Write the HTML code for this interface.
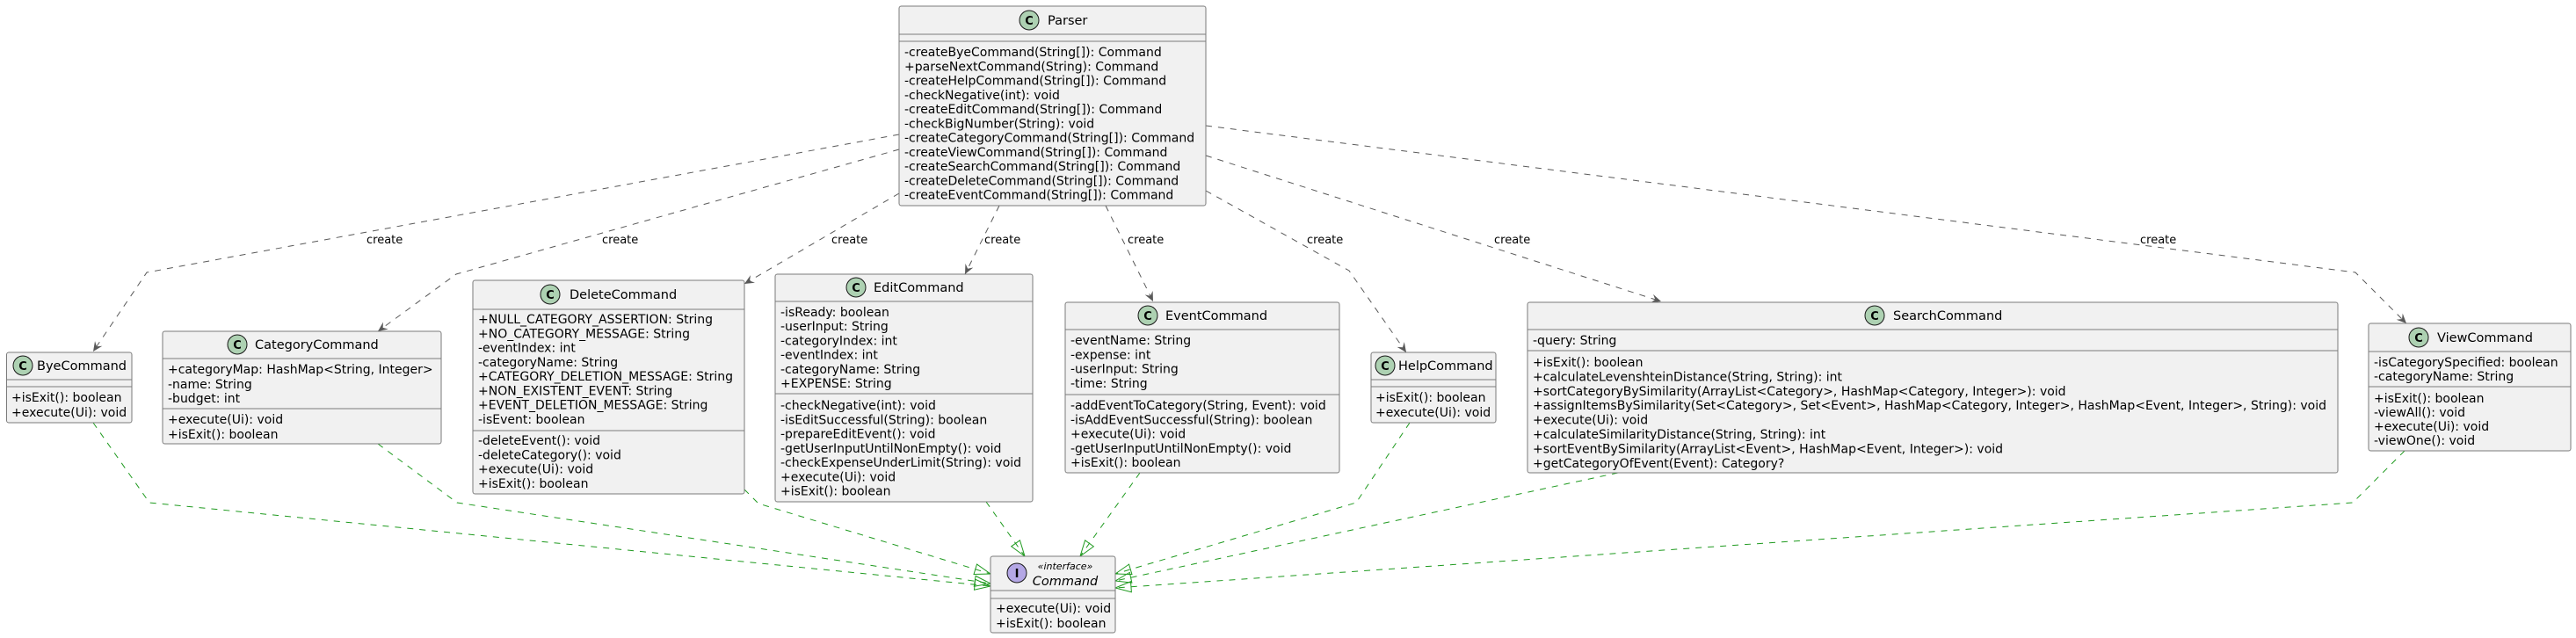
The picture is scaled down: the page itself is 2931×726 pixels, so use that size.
<!DOCTYPE html>
<html><head><meta charset="utf-8"><style>
html,body{margin:0;padding:0;background:#fff;}
svg{display:block;}
text{font-family:"DejaVu Sans","Liberation Sans",sans-serif;font-size:14px;fill:#000;}
.t{font-size:14.5px;}
.b{fill:#F1F1F1;stroke:#7a7a7a;stroke-width:1;}
.d{stroke:#7a7a7a;stroke-width:1;}
.g{fill:none;stroke:#595959;stroke-width:1;stroke-dasharray:7,7;}
.r{fill:none;stroke:#1f9a1f;stroke-width:1;stroke-dasharray:7,7;}
.lb{font-size:13px;}
.ic{font-size:13px;font-weight:bold;}
</style></head><body>
<svg width="2931" height="726" viewBox="0 0 2931 726" xmlns="http://www.w3.org/2000/svg">
<defs>
<marker id="ga" markerUnits="userSpaceOnUse" markerWidth="14" markerHeight="12" refX="11" refY="5" orient="auto">
<path d="M0,0 L11,5 L0,10 L4,5 Z" fill="#595959"/>
</marker>
<marker id="ra" markerUnits="userSpaceOnUse" markerWidth="22" markerHeight="16" refX="19" refY="7" orient="auto">
<path d="M1,1 L19,7 L1,13 Z" fill="none" stroke="#1f9a1f" stroke-width="1"/>
</marker>
</defs>

<polyline class="g" points="1023,153 167,310 106,400" marker-end="url(#ga)"/>
<polyline class="g" points="1023,170 519,312 430,377" marker-end="url(#ga)"/>
<polyline class="g" points="1023,220 847,323" marker-end="url(#ga)"/>
<polyline class="g" points="1137,234 1098,312" marker-end="url(#ga)"/>
<polyline class="g" points="1258,234 1312,343" marker-end="url(#ga)"/>
<polyline class="g" points="1372,217 1535,308 1600,401" marker-end="url(#ga)"/>
<polyline class="g" points="1372,177 1890,343" marker-end="url(#ga)"/>
<polyline class="g" points="1372,143 2680,310 2738,368" marker-end="url(#ga)"/>
<text class="lb" x="417" y="277">create</text>
<text class="lb" x="685" y="277">create</text>
<text class="lb" x="946" y="277">create</text>
<text class="lb" x="1120" y="277">create</text>
<text class="lb" x="1283" y="277">create</text>
<text class="lb" x="1487" y="277">create</text>
<text class="lb" x="1700" y="277">create</text>
<text class="lb" x="2435" y="277">create</text>

<polyline class="r" points="106,481 170,572 1127,667" marker-end="url(#ra)"/>
<polyline class="r" points="430,505 520,572 1127,664" marker-end="url(#ra)"/>
<polyline class="r" points="847,557 863,573 1127,653" marker-end="url(#ra)"/>
<polyline class="r" points="1122,571 1166,633" marker-end="url(#ra)"/>
<polyline class="r" points="1297,538 1229,633" marker-end="url(#ra)"/>
<polyline class="r" points="1604,481 1543,572 1269,653" marker-end="url(#ra)"/>
<polyline class="r" points="1841,538 1269,661" marker-end="url(#ra)"/>
<polyline class="r" points="2736,513 2677,572 1269,669" marker-end="url(#ra)"/>

<!-- Parser -->
<rect class="b" x="1023" y="7" width="349" height="227" rx="2.5"/>
<line class="d" x1="1023" y1="39" x2="1372" y2="39"/>
<line class="d" x1="1023" y1="47" x2="1372" y2="47"/>
<circle cx="1171" cy="23" r="11" fill="#ADD1B2" stroke="#181818"/>
<text x="1171" y="28" text-anchor="middle" class="ic">C</text>
<text class="t" x="1192" y="28">Parser</text>
<text x="1029" y="64">-createByeCommand(String[]): Command</text>
<text x="1029" y="80.3">+parseNextCommand(String): Command</text>
<text x="1029" y="96.5">-createHelpCommand(String[]): Command</text>
<text x="1029" y="112.8">-checkNegative(int): void</text>
<text x="1029" y="129">-createEditCommand(String[]): Command</text>
<text x="1029" y="145.3">-checkBigNumber(String): void</text>
<text x="1029" y="161.5">-createCategoryCommand(String[]): Command</text>
<text x="1029" y="177.8">-createViewCommand(String[]): Command</text>
<text x="1029" y="194">-createSearchCommand(String[]): Command</text>
<text x="1029" y="210.3">-createDeleteCommand(String[]): Command</text>
<text x="1029" y="226.5">-createEventCommand(String[]): Command</text>

<!-- ByeCommand -->
<rect class="b" x="7.5" y="401" width="142.5" height="80" rx="2.5"/>
<line class="d" x1="7.5" y1="432" x2="150" y2="432"/>
<line class="d" x1="7.5" y1="440" x2="150" y2="440"/>
<circle cx="26" cy="416" r="11" fill="#ADD1B2" stroke="#181818"/>
<text x="26" y="421" text-anchor="middle" class="ic">C</text>
<text class="t" x="42" y="421">ByeCommand</text>
<text x="13" y="457">+isExit(): boolean</text>
<text x="13" y="474">+execute(Ui): void</text>

<!-- CategoryCommand -->
<rect class="b" x="185" y="377" width="317" height="128" rx="2.5"/>
<line class="d" x1="185" y1="408" x2="502" y2="408"/>
<line class="d" x1="185" y1="465" x2="502" y2="465"/>
<circle cx="270" cy="392" r="11" fill="#ADD1B2" stroke="#181818"/>
<text x="270" y="397" text-anchor="middle" class="ic">C</text>
<text class="t" x="290" y="397">CategoryCommand</text>
<text x="191" y="425">+categoryMap: HashMap&lt;String, Integer&gt;</text>
<text x="191" y="442">-name: String</text>
<text x="191" y="458">-budget: int</text>
<text x="191" y="482">+execute(Ui): void</text>
<text x="191" y="499">+isExit(): boolean</text>

<!-- DeleteCommand -->
<rect class="b" x="538" y="319" width="309" height="243" rx="2.5"/>
<line class="d" x1="538" y1="352" x2="847" y2="352"/>
<line class="d" x1="538" y1="490" x2="847" y2="490"/>
<circle cx="626" cy="335" r="11" fill="#ADD1B2" stroke="#181818"/>
<text x="626" y="340" text-anchor="middle" class="ic">C</text>
<text class="t" x="648" y="340">DeleteCommand</text>
<text x="544" y="368">+NULL_CATEGORY_ASSERTION: String</text>
<text x="544" y="384.3">+NO_CATEGORY_MESSAGE: String</text>
<text x="544" y="400.5">-eventIndex: int</text>
<text x="544" y="416.8">-categoryName: String</text>
<text x="544" y="433">+CATEGORY_DELETION_MESSAGE: String</text>
<text x="544" y="449.3">+NON_EXISTENT_EVENT: String</text>
<text x="544" y="465.5">+EVENT_DELETION_MESSAGE: String</text>
<text x="544" y="481.8">-isEvent: boolean</text>
<text x="544" y="506">-deleteEvent(): void</text>
<text x="544" y="522.3">-deleteCategory(): void</text>
<text x="544" y="538.5">+execute(Ui): void</text>
<text x="544" y="554.8">+isExit(): boolean</text>

<!-- EditCommand -->
<rect class="b" x="882" y="312" width="293" height="259" rx="2.5"/>
<line class="d" x1="882" y1="343" x2="1175" y2="343"/>
<line class="d" x1="882" y1="448" x2="1175" y2="448"/>
<circle cx="974" cy="327" r="11" fill="#ADD1B2" stroke="#181818"/>
<text x="974" y="332" text-anchor="middle" class="ic">C</text>
<text class="t" x="994" y="332">EditCommand</text>
<text x="888" y="360">-isReady: boolean</text>
<text x="888" y="376.2">-userInput: String</text>
<text x="888" y="392.4">-categoryIndex: int</text>
<text x="888" y="408.6">-eventIndex: int</text>
<text x="888" y="424.8">-categoryName: String</text>
<text x="888" y="441">+EXPENSE: String</text>
<text x="888" y="466">-checkNegative(int): void</text>
<text x="888" y="482.3">-isEditSuccessful(String): boolean</text>
<text x="888" y="498.5">-prepareEditEvent(): void</text>
<text x="888" y="514.8">-getUserInputUntilNonEmpty(): void</text>
<text x="888" y="531">-checkExpenseUnderLimit(String): void</text>
<text x="888" y="547.3">+execute(Ui): void</text>
<text x="888" y="563.5">+isExit(): boolean</text>

<!-- EventCommand -->
<rect class="b" x="1212" y="344" width="312" height="194" rx="2.5"/>
<line class="d" x1="1212" y1="375" x2="1524" y2="375"/>
<line class="d" x1="1212" y1="449" x2="1524" y2="449"/>
<circle cx="1306" cy="359" r="11" fill="#ADD1B2" stroke="#181818"/>
<text x="1306" y="364" text-anchor="middle" class="ic">C</text>
<text class="t" x="1326" y="364">EventCommand</text>
<text x="1218" y="392">-eventName: String</text>
<text x="1218" y="408.3">-expense: int</text>
<text x="1218" y="424.5">-userInput: String</text>
<text x="1218" y="440.8">-time: String</text>
<text x="1218" y="466">-addEventToCategory(String, Event): void</text>
<text x="1218" y="482.3">-isAddEventSuccessful(String): boolean</text>
<text x="1218" y="498.5">+execute(Ui): void</text>
<text x="1218" y="514.8">-getUserInputUntilNonEmpty(): void</text>
<text x="1218" y="531">+isExit(): boolean</text>

<!-- HelpCommand -->
<rect class="b" x="1560" y="401" width="142" height="80" rx="2.5"/>
<line class="d" x1="1560" y1="432" x2="1702" y2="432"/>
<line class="d" x1="1560" y1="440" x2="1702" y2="440"/>
<circle cx="1576" cy="416" r="11" fill="#ADD1B2" stroke="#181818"/>
<text x="1576" y="421" text-anchor="middle" class="ic">C</text>
<text class="t" x="1591" y="421">HelpCommand</text>
<text x="1565" y="457">+isExit(): boolean</text>
<text x="1565" y="474">+execute(Ui): void</text>

<!-- SearchCommand -->
<rect class="b" x="1738" y="344" width="922" height="194" rx="2.5"/>
<line class="d" x1="1738" y1="375" x2="2660" y2="375"/>
<line class="d" x1="1738" y1="399" x2="2660" y2="399"/>
<circle cx="2133" cy="359" r="11" fill="#ADD1B2" stroke="#181818"/>
<text x="2133" y="364" text-anchor="middle" class="ic">C</text>
<text class="t" x="2154" y="364">SearchCommand</text>
<text x="1744" y="392">-query: String</text>
<text x="1744" y="417">+isExit(): boolean</text>
<text x="1744" y="433.4">+calculateLevenshteinDistance(String, String): int</text>
<text x="1744" y="449.8">+sortCategoryBySimilarity(ArrayList&lt;Category&gt;, HashMap&lt;Category, Integer&gt;): void</text>
<text x="1744" y="466.2">+assignItemsBySimilarity(Set&lt;Category&gt;, Set&lt;Event&gt;, HashMap&lt;Category, Integer&gt;, HashMap&lt;Event, Integer&gt;, String): void</text>
<text x="1744" y="482.6">+execute(Ui): void</text>
<text x="1744" y="499">+calculateSimilarityDistance(String, String): int</text>
<text x="1744" y="515.4">+sortEventBySimilarity(ArrayList&lt;Event&gt;, HashMap&lt;Event, Integer&gt;): void</text>
<text x="1744" y="531.8">+getCategoryOfEvent(Event): Category?</text>

<!-- ViewCommand -->
<rect class="b" x="2695" y="368" width="230" height="145" rx="2.5"/>
<line class="d" x1="2695" y1="400" x2="2925" y2="400"/>
<line class="d" x1="2695" y1="440" x2="2925" y2="440"/>
<circle cx="2752" cy="384" r="11" fill="#ADD1B2" stroke="#181818"/>
<text x="2752" y="389" text-anchor="middle" class="ic">C</text>
<text class="t" x="2773" y="389">ViewCommand</text>
<text x="2701" y="417">-isCategorySpecified: boolean</text>
<text x="2701" y="433">-categoryName: String</text>
<text x="2701" y="458">+isExit(): boolean</text>
<text x="2701" y="474">-viewAll(): void</text>
<text x="2701" y="490">+execute(Ui): void</text>
<text x="2701" y="506">-viewOne(): void</text>

<!-- Command interface -->
<rect class="b" x="1127" y="633" width="142" height="87" rx="2.5"/>
<line class="d" x1="1127" y1="672" x2="1269" y2="672"/>
<line class="d" x1="1127" y1="681" x2="1269" y2="681"/>
<circle cx="1157" cy="652" r="11" fill="#B4A7E5" stroke="#181818"/>
<text x="1157" y="657" text-anchor="middle" class="ic">I</text>
<text x="1212" y="648" text-anchor="middle" style="font-style:italic;font-size:11px">«interface»</text>
<text x="1212" y="666" text-anchor="middle" class="t" style="font-style:italic">Command</text>
<text x="1133" y="697">+execute(Ui): void</text>
<text x="1133" y="714">+isExit(): boolean</text>
</svg>
</body></html>
